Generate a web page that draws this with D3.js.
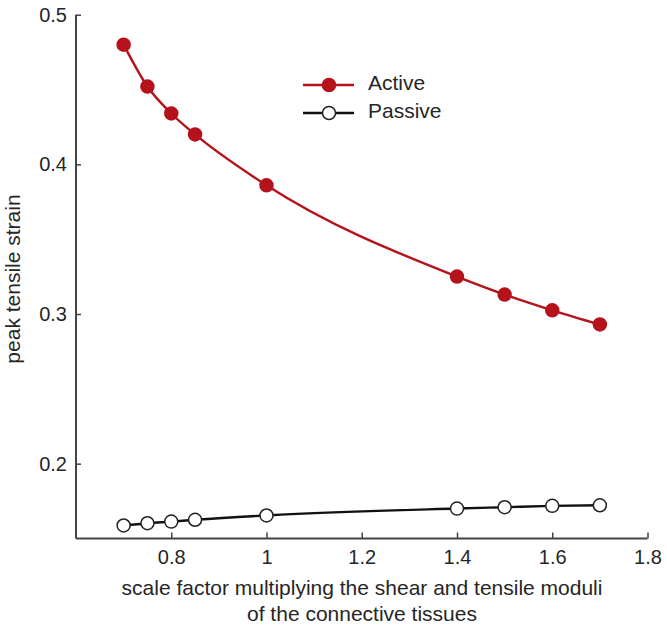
<!DOCTYPE html>
<html><head><meta charset="utf-8">
<script src="https://cdn.jsdelivr.net/npm/d3@7"></script>
<style>body{margin:0;background:#fff}text{font-family:"Liberation Sans",Arial,sans-serif;fill:#262626}</style>
</head><body><svg id="c" width="667" height="626"></svg>
<script>
const scaleFactors = [0.7, 0.75, 0.8, 0.85, 1.0, 1.4, 1.5, 1.6, 1.7];
const activeStrain = [0.480, 0.452, 0.434, 0.420, 0.386, 0.325, 0.313, 0.3025, 0.293];
const passiveStrain = [0.1587, 0.1602, 0.1613, 0.1625, 0.1654, 0.1700, 0.1709, 0.1718, 0.1722];
const xTicks = [0.8, 1, 1.2, 1.4, 1.6, 1.8];
const yTicks = [0.2, 0.3, 0.4, 0.5];
const seriesNames = ["Active", "Passive"];

const svg = d3.select("#c");
const x = d3.scaleLinear().domain([0.6, 1.8]).range([76, 647.5]);
const y = d3.scaleLinear().domain([0.15, 0.5]).range([538.5, 14.7]);
const axisColor = "#444";
const ff = '"Liberation Sans",Arial,sans-serif';

const xAxis = svg.append("g").attr("transform", `translate(0,${y(0.15)})`)
  .call(d3.axisBottom(x).tickValues(xTicks).tickSizeInner(-6).tickSizeOuter(0).tickPadding(11).tickFormat(d3.format("")));
xAxis.select(".domain").attr("stroke", axisColor).attr("stroke-width", 2).attr("d", `M${x(0.6)},0H${x(1.8)}`);
xAxis.selectAll(".tick line").attr("stroke", axisColor).attr("stroke-width", 1.5);
xAxis.selectAll(".tick text").attr("font-size", 20).attr("dy", "0.71em").style("font-family", ff).attr("fill", "#262626");

const yAxis = svg.append("g").attr("transform", `translate(${x(0.6)},0)`)
  .call(d3.axisLeft(y).tickValues(yTicks).tickSizeInner(-5).tickSizeOuter(0).tickPadding(9).tickFormat(d3.format(".1f")));
yAxis.select(".domain").attr("stroke", axisColor).attr("stroke-width", 2).attr("d", `M0,${y(0.5)}V${y(0.15)}`);
yAxis.selectAll(".tick line").attr("stroke", axisColor).attr("stroke-width", 1.5);
yAxis.selectAll(".tick text").attr("font-size", 20).style("font-family", ff).attr("fill", "#262626");

svg.append("text").attr("x", 362).attr("y", 595).attr("text-anchor", "middle").attr("font-size", 21)
  .text("scale factor multiplying the shear and tensile moduli");
svg.append("text").attr("x", 362).attr("y", 621).attr("text-anchor", "middle").attr("font-size", 21)
  .text("of the connective tissues");
svg.append("text").attr("transform", "translate(20,279) rotate(-90)").attr("text-anchor", "middle").attr("font-size", 21)
  .text("peak tensile strain");

const line = d3.line().x(d => x(d[0])).y(d => y(d[1])).curve(d3.curveMonotoneX);
const series = [
  {name: seriesNames[0], vals: activeStrain, color: "#b5121b", fill: "#b5121b", stroke: "#b5121b"},
  {name: seriesNames[1], vals: passiveStrain, color: "#111", fill: "#fff", stroke: "#222"}
];
series.forEach(s => {
  const pts = scaleFactors.map((f, i) => [f, s.vals[i]]);
  svg.append("path").datum(pts).attr("d", line).attr("fill", "none").attr("stroke", s.color).attr("stroke-width", 2.4);
  svg.selectAll(null).data(pts).enter().append("circle")
    .attr("cx", d => x(d[0])).attr("cy", d => y(d[1])).attr("r", 6.5)
    .attr("fill", s.fill).attr("stroke", s.stroke).attr("stroke-width", 1.5);
});

const legend = svg.append("g");
series.forEach((s, i) => {
  const ly = 85 + i * 28;
  legend.append("line").attr("x1", 303).attr("x2", 354).attr("y1", ly).attr("y2", ly).attr("stroke", s.color).attr("stroke-width", 2.4);
  legend.append("circle").attr("cx", 329).attr("cy", ly).attr("r", 6.5).attr("fill", s.fill).attr("stroke", s.stroke).attr("stroke-width", 1.5);
  legend.append("text").attr("x", 368).attr("y", ly + 5).attr("font-size", 21).text(s.name);
});
</script></body></html>
